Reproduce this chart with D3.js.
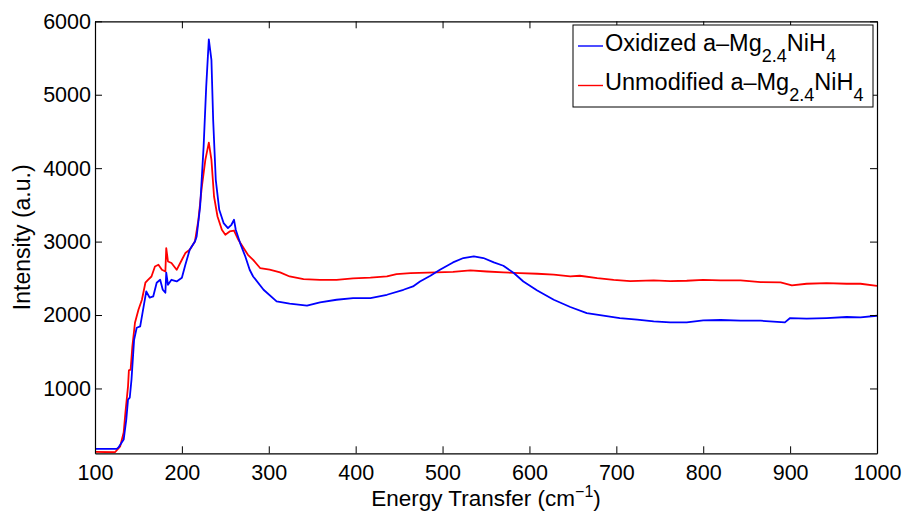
<!doctype html>
<html lang="en">
<head>
  <meta charset="utf-8" />
  <title>Energy transfer spectrum</title>
  <script src="https://d3js.org/d3.v7.min.js"></script>
  <style>
    body { margin: 0; background: #fff; }
    svg text { font-family: "Liberation Sans", Arial, sans-serif; fill: #000; }
  </style>
</head>
<body>
  <figure id="chart" style="margin:0"></figure>

  <script>
    // energy transfer (cm^-1) / intensity (a.u.)
    const oxidizedX = [100, 125, 127, 133, 136, 138, 140, 142, 145, 148, 152, 156, 159, 163, 167, 171, 175, 178, 181, 182, 184, 188, 194, 200, 204, 209, 215, 217, 221, 225, 228, 231, 234, 236, 239, 243, 248, 253, 257, 260, 262, 267, 273, 278, 282, 294, 309, 324, 344, 359, 378, 397, 417, 436, 455, 466, 474, 486, 497, 512, 524, 536, 547, 559, 570, 582, 593, 609, 628, 647, 666, 685, 704, 724, 743, 762, 781, 800, 820, 843, 866, 894, 900, 919, 942, 965, 981, 1000];
    const oxidizedY = [177, 177, 195, 304, 576, 848, 875, 1120, 1664, 1827, 1845, 2117, 2321, 2236, 2253, 2440, 2480, 2344, 2304, 2576, 2412, 2480, 2457, 2508, 2685, 2888, 3000, 3070, 3478, 4294, 5110, 5755, 5474, 4657, 3841, 3433, 3252, 3184, 3229, 3297, 3161, 2980, 2797, 2617, 2525, 2344, 2185, 2154, 2127, 2172, 2208, 2231, 2231, 2276, 2344, 2389, 2457, 2535, 2616, 2716, 2776, 2798, 2776, 2716, 2671, 2572, 2457, 2335, 2208, 2109, 2027, 1991, 1959, 1936, 1913, 1900, 1900, 1927, 1932, 1923, 1923, 1900, 1959, 1950, 1959, 1973, 1967, 1990];

    const unmodifiedX = [100, 123, 129, 133, 135, 138, 139, 141, 143, 146, 150, 154, 158, 161, 165, 169, 173, 177, 181, 182, 184, 188, 194, 200, 204, 209, 215, 219, 223, 227, 231, 234, 237, 241, 246, 250, 255, 260, 265, 271, 276, 282, 290, 301, 313, 324, 340, 359, 378, 397, 417, 436, 447, 463, 493, 512, 532, 551, 570, 589, 609, 628, 647, 658, 678, 697, 716, 743, 762, 781, 800, 820, 843, 866, 889, 902, 919, 942, 965, 981, 1000];
    const unmodifiedY = [136, 131, 212, 399, 671, 1029, 1246, 1256, 1573, 1895, 2072, 2208, 2440, 2480, 2525, 2661, 2685, 2616, 2593, 2912, 2729, 2708, 2616, 2753, 2844, 2888, 3001, 3297, 3750, 4113, 4348, 4113, 3614, 3342, 3161, 3093, 3138, 3151, 3025, 2912, 2820, 2752, 2640, 2617, 2580, 2525, 2490, 2480, 2480, 2498, 2508, 2525, 2558, 2572, 2580, 2589, 2607, 2593, 2580, 2571, 2562, 2549, 2525, 2535, 2503, 2480, 2463, 2471, 2463, 2467, 2480, 2471, 2471, 2449, 2444, 2403, 2426, 2435, 2426, 2426, 2398];

    const xTicks = [100, 200, 300, 400, 500, 600, 700, 800, 900, 1000];
    const yTicks = [1000, 2000, 3000, 4000, 5000, 6000];

    const seriesNames = ["Oxidized a\u2013Mg", "Unmodified a\u2013Mg"];
    const seriesColors = ["#0000ff", "#ff0000"];

    const width = 907, height = 515;
    const margin = { top: 21.3, right: 30, bottom: 61.7, left: 95 };

    const svg = d3.select("#chart").append("svg")
      .attr("width", width)
      .attr("height", height);

    const x = d3.scaleLinear()
      .domain([100, 1000])
      .range([margin.left, width - margin.right]);

    const y = d3.scaleLinear()
      .domain([117, 6000])
      .range([height - margin.bottom, margin.top]);

    const series = [
      { x: oxidizedX, y: oxidizedY, color: seriesColors[0] },
      { x: unmodifiedX, y: unmodifiedY, color: seriesColors[1] }
    ];

    const line = d3.line()
      .x(d => x(d[0]))
      .y(d => y(d[1]));

    svg.append("defs").append("clipPath").attr("id", "plot-clip")
      .append("rect")
      .attr("x", margin.left).attr("y", margin.top)
      .attr("width", width - margin.left - margin.right)
      .attr("height", height - margin.top - margin.bottom);

    const plot = svg.append("g").attr("clip-path", "url(#plot-clip)");

    // draw the oxidized curve last so it sits on top, like the original
    [series[1], series[0]].forEach(s => {
      plot.append("path")
        .datum(s.x.map((v, i) => [v, s.y[i]]))
        .attr("fill", "none")
        .attr("stroke", s.color)
        .attr("stroke-width", 1.8)
        .attr("stroke-linejoin", "round")
        .attr("d", line);
    });

    // box axes with inward ticks on all four sides
    const tickLen = 7;
    const fontSize = 21.5;
    const fmt = d3.format("d");

    const bottomAxis = d3.axisBottom(x).tickValues(xTicks).tickFormat(fmt).tickSizeInner(-tickLen).tickSizeOuter(0).tickPadding(11);
    const topAxis = d3.axisTop(x).tickValues(xTicks).tickSizeInner(-tickLen).tickSizeOuter(0).tickFormat("");
    const leftAxis = d3.axisLeft(y).tickValues(yTicks).tickFormat(fmt).tickSizeInner(-tickLen).tickSizeOuter(0).tickPadding(4);
    const rightAxis = d3.axisRight(y).tickValues(yTicks).tickSizeInner(-tickLen).tickSizeOuter(0).tickFormat("");

    svg.append("g").attr("transform", `translate(0,${height - margin.bottom})`).call(bottomAxis);
    svg.append("g").attr("transform", `translate(0,${margin.top})`).call(topAxis);
    svg.append("g").attr("transform", `translate(${margin.left},0)`).call(leftAxis);
    svg.append("g").attr("transform", `translate(${width - margin.right},0)`).call(rightAxis);

    svg.selectAll(".domain").attr("stroke", "#000").attr("stroke-width", 1.2);
    svg.selectAll(".tick line").attr("stroke", "#000");
    svg.selectAll(".tick text")
      .attr("font-size", fontSize)
      .attr("font-family", "Liberation Sans, Arial, sans-serif");

    // axis titles
    const xTitle = svg.append("text")
      .attr("x", (margin.left + width - margin.right) / 2)
      .attr("y", 506)
      .attr("text-anchor", "middle")
      .attr("font-size", 22.5);
    xTitle.append("tspan").text("Energy Transfer (cm");
    xTitle.append("tspan").attr("font-size", 16).attr("dy", -9).text("\u22121");
    xTitle.append("tspan").attr("dy", 9).text(")");

    svg.append("text")
      .attr("transform", `translate(30,${(margin.top + height - margin.bottom) / 2}) rotate(-90)`)
      .attr("text-anchor", "middle")
      .attr("font-size", 23)
      .text("Intensity (a.u.)");

    // legend
    const legend = svg.append("g");
    legend.append("rect")
      .attr("x", 573).attr("y", 25)
      .attr("width", 300).attr("height", 82)
      .attr("fill", "#fff")
      .attr("stroke", "#000")
      .attr("stroke-width", 1);

    seriesNames.forEach((name, i) => {
      const rowY = 46 + i * 39.5;
      legend.append("line")
        .attr("x1", 578).attr("x2", 603)
        .attr("y1", rowY).attr("y2", rowY)
        .attr("stroke", seriesColors[i])
        .attr("stroke-width", 1.4);
      const t = legend.append("text")
        .attr("x", 605)
        .attr("y", rowY + 4.5)
        .attr("font-size", 23.5);
      t.append("tspan").text(name);
      t.append("tspan").attr("font-size", 18).attr("dy", 11).text("2.4");
      t.append("tspan").attr("dy", -11).text("NiH");
      t.append("tspan").attr("font-size", 18).attr("dy", 11).text("4");
    });
  </script>
</body>
</html>
